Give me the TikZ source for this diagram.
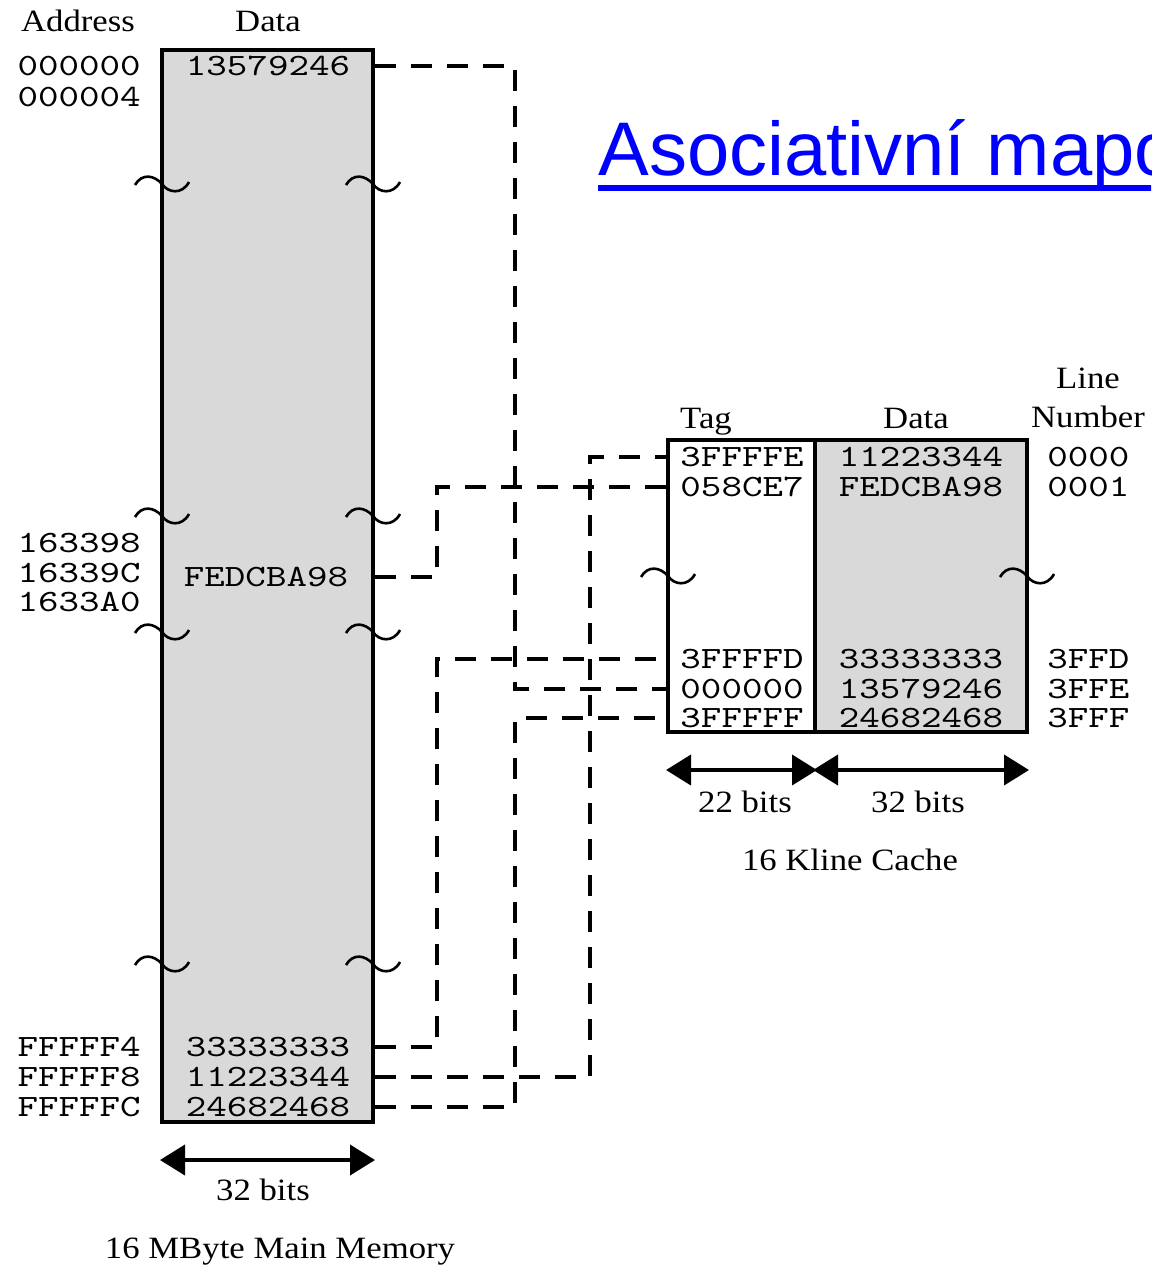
\documentclass[tikz,border=0pt]{standalone}
\usepackage{fontspec}
\setmainfont{Liberation Serif}[FakeStretch=1.12]
\newfontfamily\monofont{lmmono10-regular.otf}[FakeStretch=1.26]
\newfontfamily\titlefont{Liberation Sans}
\usetikzlibrary{arrows.meta,positioning}
\definecolor{memgray}{HTML}{D9D9D9}
\definecolor{linkblue}{HTML}{0000FF}
\begin{document}
\begin{tikzpicture}[
  x=0.5pt, y=-0.5pt,
  every node/.style={inner sep=0pt},
  txt/.style={font=\fontsize{15.5}{16}\selectfont, anchor=base},
  hexnum/.style={font=\monofont\fontsize{15.5}{16}\selectfont},
  box/.style={draw, line width=2pt, fill=memgray},
  link/.style={line width=2.4pt, dash pattern=on 10.5pt off 7.5pt},
  span/.style={line width=2pt, {Triangle[length=12.5pt,width=15pt]}-{Triangle[length=12.5pt,width=15pt]}},
  brk/.pic={\draw[line width=1.3pt] (-27,0) .. controls (-20,-12) and (-8,-10) .. (0,-1) .. controls (6,8) and (20,10) .. (27,-3);}
]
\useasboundingbox (0,0) rectangle (1151,1268);
\clip (0,0) rectangle (1151,1268);

\node (title) [anchor=base west, font=\titlefont\fontsize{38}{40}\selectfont, text=linkblue] at (598,176) {Asociativní mapo};
\draw[linkblue, line width=3pt] ([yshift=-6pt]title.base west) -- ([yshift=-6pt]title.base east);

\node (mem) [box, minimum width=105.5pt, minimum height=536pt] at (267.5,586) {};
\node (addrhd) [txt] at (78,32) {Address};
\node (datahd) [txt] at (268,32) {Data};

\node (a0) [hexnum, anchor=east] at (141,66) {000000};
\node (a1) [hexnum, anchor=east] at (141,97) {000004};
\node (a2) [hexnum, anchor=east] at (141,543) {163398};
\node (a3) [hexnum, anchor=east] at (141,573) {16339C};
\node (a4) [hexnum, anchor=east] at (141,602) {1633A0};
\node (a5) [hexnum, anchor=east] at (141,1047) {FFFFF4};
\node (a6) [hexnum, anchor=east] at (141,1077) {FFFFF8};
\node (a7) [hexnum, anchor=east] at (141,1107) {FFFFFC};

\node (m0) [hexnum] at (268,66) {13579246};
\node (m1) [hexnum] at (266,577) {FEDCBA98};
\node (m2) [hexnum] at (268,1047) {33333333};
\node (m3) [hexnum] at (268,1077) {11223344};
\node (m4) [hexnum] at (268,1107) {24682468};

\foreach \y in {185,517,633,965} {
  \pic at (162,\y) {brk};
  \pic at (373,\y) {brk};
}

\draw[span] ([yshift=-18pt]mem.south west) -- ([yshift=-18pt]mem.south east);
\node (membits) [txt] at (263,1200) {32 bits};
\node (memcap) [txt] at (280,1258) {16 MByte Main Memory};

\node (tagcol) [draw, line width=2pt, fill=white, minimum width=73.5pt, minimum height=146pt] at (741.5,586) {};
\node (datcol) [box, minimum width=106pt, minimum height=146pt] at (921,586) {};
\node (taghd) [txt] at (706,428) {Tag};
\node (cdatahd) [txt] at (916,428) {Data};
\node (linehd) [txt] at (1088,388) {Line};
\node (numhd) [txt] at (1088,427) {Number};

\node (t0) [hexnum] at (742,457) {3FFFFE};
\node (t1) [hexnum] at (742,487) {058CE7};
\node (t2) [hexnum] at (742,659) {3FFFFD};
\node (t3) [hexnum] at (742,689) {000000};
\node (t4) [hexnum] at (742,718) {3FFFFF};

\node (d0) [hexnum] at (921,457) {11223344};
\node (d1) [hexnum] at (921,487) {FEDCBA98};
\node (d2) [hexnum] at (921,659) {33333333};
\node (d3) [hexnum] at (921,689) {13579246};
\node (d4) [hexnum] at (921,718) {24682468};

\node (n0) [hexnum, anchor=west] at (1047,457) {0000};
\node (n1) [hexnum, anchor=west] at (1047,487) {0001};
\node (n2) [hexnum, anchor=west] at (1047,659) {3FFD};
\node (n3) [hexnum, anchor=west] at (1047,689) {3FFE};
\node (n4) [hexnum, anchor=west] at (1047,718) {3FFF};

\pic at (668,577) {brk};
\pic at (1027,577) {brk};

\draw[span] ([yshift=-18pt]tagcol.south west) -- ([yshift=-18pt]tagcol.south east);
\draw[span] ([yshift=-18pt]datcol.south west) -- ([yshift=-18pt]datcol.south east);
\node (tagbits) [txt] at (745,812) {22 bits};
\node (datbits) [txt] at (918,812) {32 bits};
\node (cachecap) [txt] at (850,870) {16 Kline Cache};

\coordinate (busA) at (437,0);
\coordinate (busB) at (515,0);
\coordinate (busC) at (590,0);

\draw[link] (mem.east |- m0) -- (busB |- m0) -- (busB |- t3) -- (tagcol.west |- t3);
\draw[link] (mem.east |- m1) -- (busA |- m1) -- (busA |- t1) -- (tagcol.west |- t1);
\draw[link] (mem.east |- m2) -- (busA |- m2) -- (busA |- t2) -- (tagcol.west |- t2);
\draw[link] (mem.east |- m3) -- (busC |- m3) -- (busC |- t0) -- (tagcol.west |- t0);
\draw[link] (mem.east |- m4) -- (busB |- m4) -- (busB |- t4) -- (tagcol.west |- t4);
\end{tikzpicture}
\end{document}
